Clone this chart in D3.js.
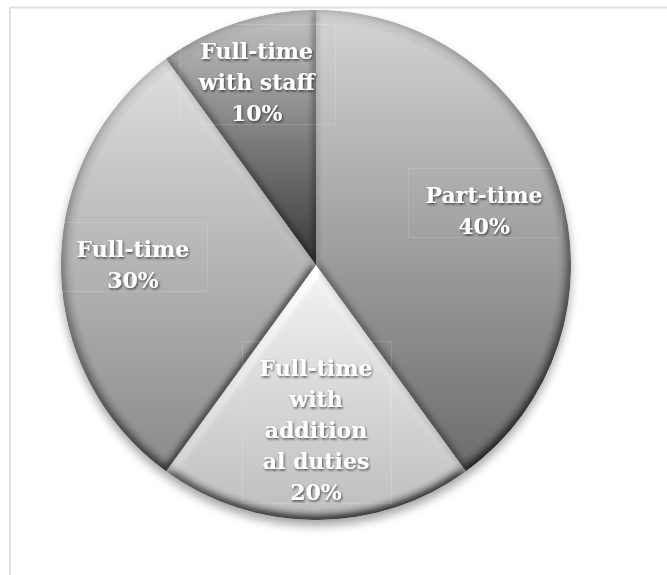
<!DOCTYPE html>
<html>
<head>
<meta charset="utf-8">
<script src="https://cdn.jsdelivr.net/npm/d3@7"></script>
<style>
  html, body { margin: 0; padding: 0; background: #fff; }
  svg { display: block; }
</style>
</head>
<body>
<script>
// Staffing arrangement shares, clockwise from 12 o'clock
const categories = ["Part-time", "Full-time with additional duties", "Full-time", "Full-time with staff"];
const values = [40, 20, 30, 10];
const labelLines = [
  ["Part-time"],
  ["Full-time", "with", "addition", "al duties"],
  ["Full-time"],
  ["Full-time", "with staff"]
];

const W = 667, H = 575;
const cx = 316, cy = 265, R = 255;

// vertical gradient per slice (top -> bottom of the slice) and label radius (fraction of R)
const sliceShade = [
  { top: "#d4d4d4", bottom: "#6c6c6c" },
  { top: "#f4f4f4", bottom: "#bdbdbd" },
  { top: "#dedede", bottom: "#8a8a8a" },
  { top: "#c4c4c4", bottom: "#383838" }
];
const labelRadius = [0.693, 0.649, 0.718, 0.753];

const svg = d3.select("body").append("svg")
  .attr("width", W).attr("height", H);

// chart frame (top and left edges)
svg.append("line").attr("x1", 10).attr("x2", W).attr("y1", 7.5).attr("y2", 7.5)
  .attr("stroke", "#e0e0e0").attr("stroke-width", 2);
svg.append("line").attr("x1", 10).attr("x2", 10).attr("y1", 7).attr("y2", H)
  .attr("stroke", "#e0e0e0").attr("stroke-width", 2);

const defs = svg.append("defs");

sliceShade.forEach((s, i) => {
  const g = defs.append("linearGradient").attr("id", "shade" + i)
    .attr("x1", 0).attr("y1", 0).attr("x2", 0).attr("y2", 1);
  g.append("stop").attr("offset", "0%").attr("stop-color", s.top);
  g.append("stop").attr("offset", "100%").attr("stop-color", s.bottom);
});

// soft rounded bevel on every slice edge, lit from above
const bevel = defs.append("filter").attr("id", "bevel")
  .attr("x", "-5%").attr("y", "-5%").attr("width", "110%").attr("height", "110%");
bevel.append("feGaussianBlur").attr("in", "SourceAlpha").attr("stdDeviation", 4).attr("result", "blur");
const diff = bevel.append("feDiffuseLighting").attr("in", "blur")
  .attr("surfaceScale", 6).attr("diffuseConstant", 1)
  .attr("lighting-color", "#ffffff").attr("result", "lit");
diff.append("feDistantLight").attr("azimuth", 255).attr("elevation", 55);
bevel.append("feComposite").attr("in", "SourceGraphic").attr("in2", "lit")
  .attr("operator", "arithmetic").attr("k1", 1 / Math.sin(55 * Math.PI / 180))
  .attr("k2", 0).attr("k3", 0).attr("k4", 0).attr("result", "shaded");
bevel.append("feComposite").attr("in", "shaded").attr("in2", "SourceAlpha").attr("operator", "in");

// darker outer edge of the pie
const rim = defs.append("radialGradient").attr("id", "rim")
  .attr("gradientUnits", "userSpaceOnUse")
  .attr("cx", cx).attr("cy", cy).attr("r", R);
rim.append("stop").attr("offset", "95%").attr("stop-color", "#000").attr("stop-opacity", 0);
rim.append("stop").attr("offset", "100%").attr("stop-color", "#000").attr("stop-opacity", 0.22);

const shadow = defs.append("filter").attr("id", "pieShadow")
  .attr("x", "-10%").attr("y", "-10%").attr("width", "120%").attr("height", "125%");
shadow.append("feDropShadow").attr("dx", 0).attr("dy", 6).attr("stdDeviation", 5)
  .attr("flood-color", "#000").attr("flood-opacity", 0.35);

const textShadow = defs.append("filter").attr("id", "textShadow")
  .attr("x", "-10%").attr("y", "-20%").attr("width", "130%").attr("height", "150%");
textShadow.append("feDropShadow").attr("dx", 1).attr("dy", 1.5).attr("stdDeviation", 1)
  .attr("flood-color", "#000").attr("flood-opacity", 0.6);

const pie = d3.pie().sort(null).value(d => d.value)
  .startAngle(0).endAngle(2 * Math.PI);
const data = categories.map((c, i) => ({ category: c, value: values[i], lines: labelLines[i], idx: i }));
const arcs = pie(data);

const arc = d3.arc().innerRadius(0).outerRadius(R);

const pieG = svg.append("g").attr("filter", "url(#pieShadow)");
const sliceG = pieG.append("g").attr("transform", `translate(${cx},${cy})`);

sliceG.selectAll("path.slice").data(arcs).join("path")
  .attr("class", "slice")
  .attr("d", arc)
  .attr("fill", d => `url(#shade${d.data.idx})`)
  .attr("filter", "url(#bevel)");

pieG.append("circle").attr("cx", cx).attr("cy", cy).attr("r", R)
  .attr("fill", "url(#rim)");

// labels
const fontSize = 22, lineH = 31;
const labels = svg.append("g")
  .attr("font-family", "'DejaVu Serif', serif")
  .attr("font-weight", "bold")
  .attr("font-size", fontSize)
  .attr("fill", "#ffffff")
  .attr("text-anchor", "middle");

// faint label frames
const boxes = svg.insert("g", () => labels.node())
  .attr("fill", "none")
  .attr("stroke", "#ffffff")
  .attr("stroke-opacity", 0.14)
  .attr("stroke-width", 1);

arcs.forEach(d => {
  const r = R * labelRadius[d.data.idx];
  const [lx, ly] = d3.arc().innerRadius(r).outerRadius(r).centroid(d);
  const lines = d.data.lines.concat([d3.format(".0%")(d.data.value / 100)]);
  const top = cy + ly - (lines.length - 1) * lineH / 2;
  const t = labels.append("text").attr("filter", "url(#textShadow)");
  lines.forEach((ln, k) => {
    t.append("tspan")
      .attr("x", cx + lx)
      .attr("y", top + k * lineH)
      .attr("dy", "0.36em")
      .text(ln);
  });
  const bb = t.node().getBBox();
  boxes.append("rect")
    .attr("x", Math.round(bb.x - 18) + 0.5)
    .attr("y", Math.round(bb.y - 14) + 0.5)
    .attr("width", Math.round(bb.width + 36))
    .attr("height", Math.round(bb.height + 12));
});
</script>
</body>
</html>
